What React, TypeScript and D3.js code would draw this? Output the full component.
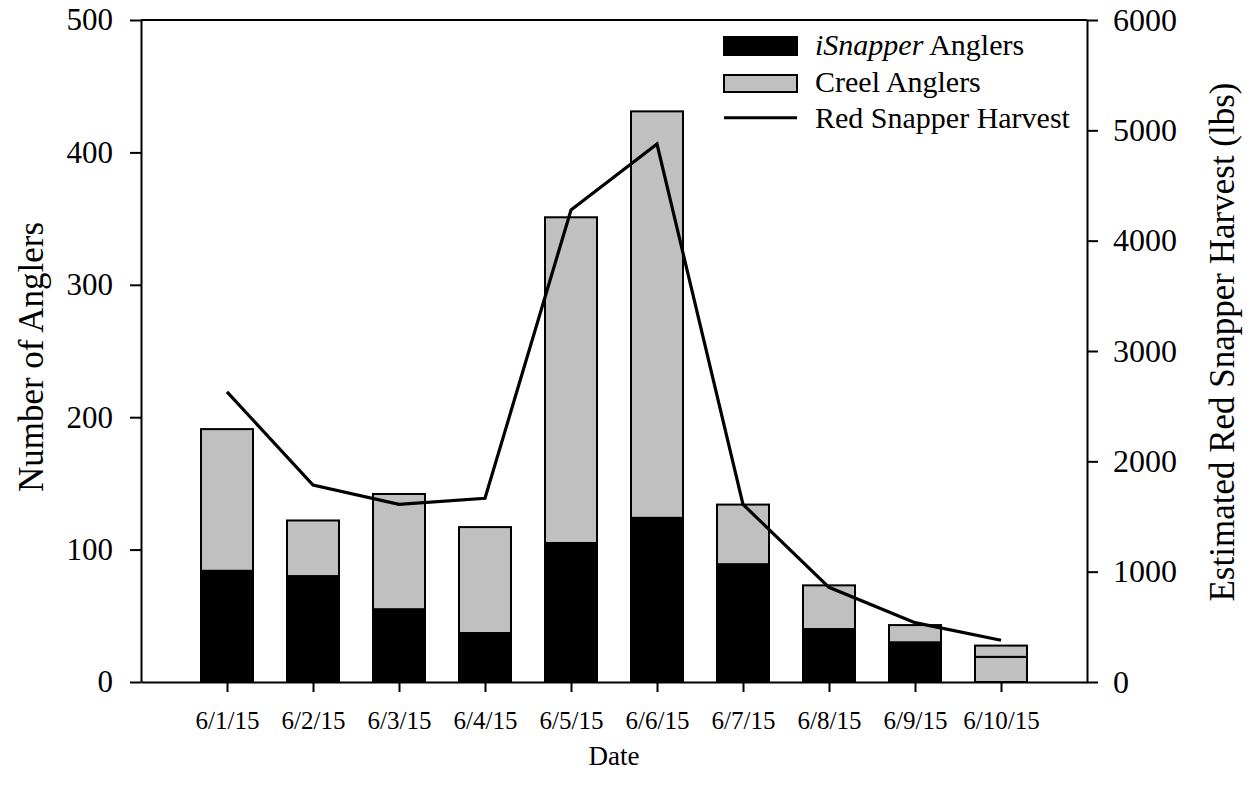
import { useEffect, useRef } from "react";
import * as d3 from "d3";

// values
const dates = ["6/1/15", "6/2/15", "6/3/15", "6/4/15", "6/5/15", "6/6/15", "6/7/15", "6/8/15", "6/9/15", "6/10/15"];
const iSnapperAnglers = [84, 80, 55, 37, 105, 124, 89, 40, 30, 19];
const creelAnglers = [107, 42, 87, 80, 246, 307, 45, 33, 13, 8.5];
const harvestLbs = [2630, 1785, 1610, 1665, 4278, 4876, 1610, 858, 538, 378];
// in the original the last iSnapper segment is drawn grey
const greyedISnapper = ["6/10/15"];
const leftTicks = [0, 100, 200, 300, 400, 500];
const rightTicks = [0, 1000, 2000, 3000, 4000, 5000, 6000];

const W = 1254;
const H = 794;
const left = 141;
const right = 1087;
const top = 20;
const bottom = 682;
const FONT = "'Liberation Serif', 'Times New Roman', serif";

const App = () => {
  const leftAxisRef = useRef<SVGGElement>(null);
  const rightAxisRef = useRef<SVGGElement>(null);
  const bottomAxisRef = useRef<SVGGElement>(null);

  const x = d3.scalePoint<string>().domain(dates).range([left, right]).padding(1);
  const yLeft = d3.scaleLinear().domain([0, 500]).range([bottom, top]);
  const yRight = d3.scaleLinear().domain([0, 6000]).range([bottom, top]);
  const barW = 52;

  const rows = dates.map((d, i) => ({ date: d, isnapper: iSnapperAnglers[i], creel: creelAnglers[i] }));
  const stacked = d3.stack<any>().keys(["isnapper", "creel"])(rows);

  const harvestLine = d3
    .line<number>()
    .x((_, i) => x(dates[i]) as number)
    .y((v) => yRight(v));

  useEffect(() => {
    const style = (g: any, size: number) => {
      g.attr("font-family", FONT);
      g.selectAll("path, line").attr("stroke", "#000").attr("stroke-width", 2);
      g.selectAll("text").attr("font-family", FONT).attr("font-size", size).attr("fill", "#000");
    };
    const gl = d3.select(leftAxisRef.current);
    gl.call(d3.axisLeft(yLeft).tickValues(leftTicks).tickFormat(d3.format("d")).tickSize(11).tickSizeOuter(0).tickPadding(17));
    style(gl, 31);
    const gr = d3.select(rightAxisRef.current);
    gr.call(d3.axisRight(yRight).tickValues(rightTicks).tickFormat(d3.format("d")).tickSize(11).tickSizeOuter(0).tickPadding(15));
    style(gr, 32);
    const gb = d3.select(bottomAxisRef.current);
    gb.call(d3.axisBottom(x).tickSize(10).tickSizeOuter(0).tickPadding(19));
    style(gb, 25);
  }, []);

  return (
    <svg width={W} height={H} style={{ position: "absolute", left: 0, top: 0, background: "#fff" }}>
      {/* bars */}
      {stacked.map((layer) =>
        layer.map((seg, i) => {
          const isBlack = layer.key === "isnapper" && !greyedISnapper.includes(dates[i]);
          return (
            <rect
              key={layer.key + i}
              x={(x(dates[i]) as number) - barW / 2}
              y={yLeft(seg[1])}
              width={barW}
              height={yLeft(seg[0]) - yLeft(seg[1])}
              fill={isBlack ? "#000" : "#c0c0c0"}
              stroke="#000"
              strokeWidth={2}
            />
          );
        })
      )}

      {/* harvest line */}
      <path d={harvestLine(harvestLbs) || ""} fill="none" stroke="#000" strokeWidth={3.2} strokeLinejoin="miter" />

      {/* frame top */}
      <line x1={left} x2={right} y1={top} y2={top} stroke="#000" strokeWidth={2} />

      <g ref={leftAxisRef} transform={`translate(${left},0)`} />
      <g ref={rightAxisRef} transform={`translate(${right},0)`} />
      <g ref={bottomAxisRef} transform={`translate(0,${bottom})`} />

      {/* axis titles */}
      <text
        transform={`translate(43,${(top + bottom) / 2 + 6}) rotate(-90)`}
        textAnchor="middle"
        fontFamily={FONT}
        fontSize={35}
      >
        Number of Anglers
      </text>
      <text
        transform={`translate(1234,${(top + bottom) / 2 - 9}) rotate(-90)`}
        textAnchor="middle"
        fontFamily={FONT}
        fontSize={35}
      >
        Estimated Red Snapper Harvest (lbs)
      </text>
      <text x={(left + right) / 2} y={765} textAnchor="middle" fontFamily={FONT} fontSize={27}>
        Date
      </text>

      {/* legend */}
      <g fontFamily={FONT} fontSize={30}>
        <rect x={724} y={37} width={73} height={18} fill="#000" stroke="#000" strokeWidth={2} />
        <text x={815} y={55}>
          <tspan fontStyle="italic">iSnapper</tspan> Anglers
        </text>
        <rect x={724} y={75} width={73} height={17} fill="#c0c0c0" stroke="#000" strokeWidth={2} />
        <text x={815} y={91.5}>Creel Anglers</text>
        <line x1={724} x2={797} y1={117.7} y2={117.7} stroke="#000" strokeWidth={3} />
        <text x={815} y={128}>Red Snapper Harvest</text>
      </g>
    </svg>
  );
};

export default App;
